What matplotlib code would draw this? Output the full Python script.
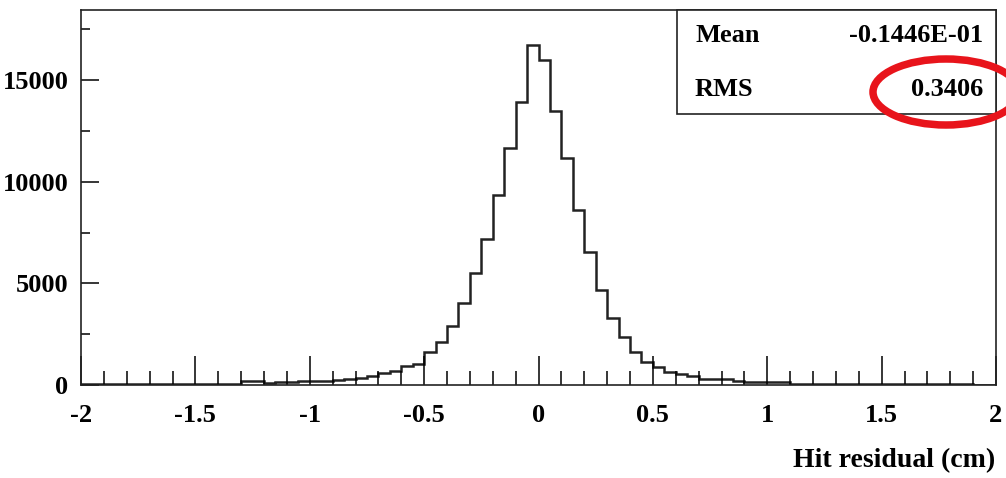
import matplotlib
matplotlib.use("Agg")
import matplotlib.pyplot as plt
import numpy as np
from matplotlib.patches import Rectangle, Ellipse
from matplotlib.ticker import MultipleLocator

# histogram of hit residuals, 80 bins of 0.05 cm from -2 to 2
bin_lo = -2.0
bin_hi = 2.0
counts = [30, 35, 40, 35, 40, 45, 40, 45, 50, 45, 50, 55, 60, 60,
          200, 200, 80, 160, 160, 210, 210, 220, 250, 295, 330, 440,
          575, 700, 910, 1040, 1620, 2110, 2920, 4020, 5490, 7160,
          9340, 11640, 13930, 16720, 15980, 13470, 11180, 8630, 6550,
          4670, 3310, 2380, 1620, 1130, 900, 640, 540, 440, 300, 295,
          290, 210, 160, 160, 160, 160, 60, 55, 50, 50, 45, 45, 40, 40,
          40, 35, 35, 40, 35, 30, 30, 30, 0, 0]

stat_names = ["Mean", "RMS"]
stat_values = ["-0.1446E-01", "0.3406"]

W, H = 1006, 478
fig = plt.figure(figsize=(W / 100, H / 100), dpi=100)
ax = fig.add_axes([81 / W, (H - 385) / H, (996 - 81) / W, (385 - 9.5) / H])

edges = np.linspace(bin_lo, bin_hi, len(counts) + 1)
ax.stairs(counts, edges, color="#222222", linewidth=1.8)

ax.set_xlim(bin_lo, bin_hi)
ax.set_ylim(0, 18470)

font = "Liberation Serif"
ax.xaxis.set_major_locator(MultipleLocator(0.5))
ax.xaxis.set_minor_locator(MultipleLocator(0.1))
ax.yaxis.set_major_locator(MultipleLocator(5000))
ax.yaxis.set_minor_locator(MultipleLocator(2500))
ax.tick_params(axis="x", which="major", direction="in", length=21, width=1.1, pad=14)
ax.tick_params(axis="x", which="minor", direction="in", length=10, width=1.1)
ax.tick_params(axis="y", which="major", direction="in", length=13, width=1.1, pad=9)
ax.tick_params(axis="y", which="minor", direction="in", length=6.5, width=1.1)
ax.set_xticks([-2, -1.5, -1, -0.5, 0, 0.5, 1, 1.5, 2])
ax.set_xticklabels(["-2", "-1.5", "-1", "-0.5", "0", "0.5", "1", "1.5", "2"])
ax.set_yticks([0, 5000, 10000, 15000])
ax.set_yticklabels(["0", "5000", "10000", "15000"])
for lab in ax.get_xticklabels() + ax.get_yticklabels():
    lab.set_fontfamily(font)
    lab.set_fontweight("bold")
    lab.set_fontsize(19)
for sp in ax.spines.values():
    sp.set_linewidth(1.2)
    sp.set_color("#222222")

fig.text(995 / W, 1 - 461 / H, "Hit residual (cm)", ha="right", va="center",
         fontsize=20, family=font, fontweight="bold")

# stats box
fig.add_artist(Rectangle((677 / W, 1 - 114 / H), (996 - 677) / W, (114 - 9.5) / H,
                         transform=fig.transFigure, facecolor="white",
                         edgecolor="#222222", linewidth=1.2))
for i, (n, v) in enumerate(zip(stat_names, stat_values)):
    yy = 1 - (36 + 53 * i) / H
    fig.text(695 / W, yy, n, ha="left", va="center", fontsize=19,
             family=font, fontweight="bold")
    fig.text(983 / W, yy, v, ha="right", va="center", fontsize=19,
             family=font, fontweight="bold")

# red highlight round the RMS value
fig.add_artist(Ellipse((9.46, (H - 92) / 100), 1.46, 0.66,
                       transform=fig.dpi_scale_trans, fill=False,
                       edgecolor="#e8141b", linewidth=5.4, clip_on=False))

fig.savefig("out.png", dpi=100)
